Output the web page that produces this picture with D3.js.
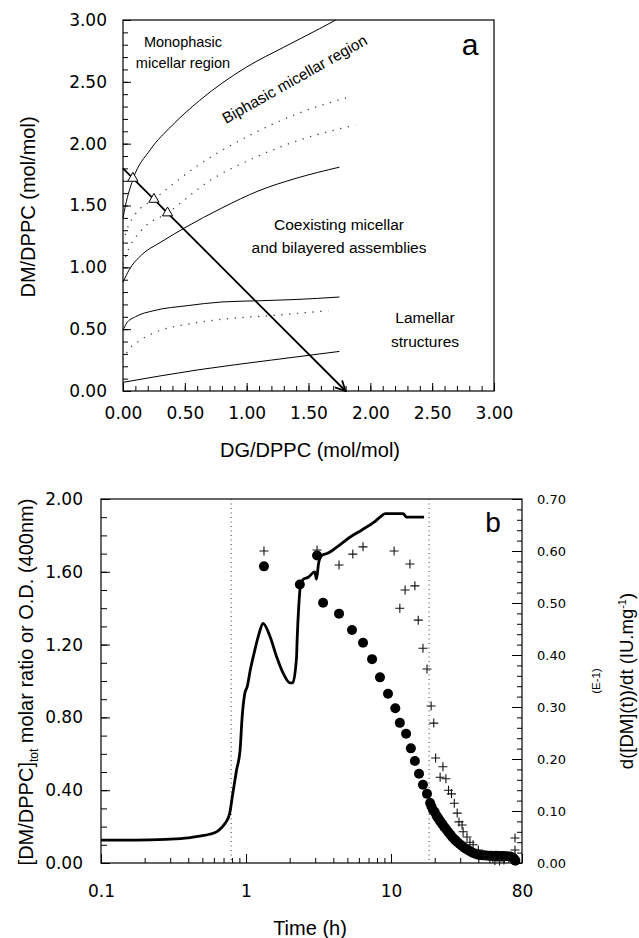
<!DOCTYPE html>
<html>
<head>
<meta charset="utf-8">
<script src="https://cdn.jsdelivr.net/npm/d3@7"></script>
<style>
body { margin: 0; background: #fff; }
svg { display: block; font-family: "Liberation Sans", Arial, sans-serif; }
</style>
</head>
<body>
<svg id="fig" width="639" height="938"></svg>
<script>
// ---------- panel a : phase diagram (DG/DPPC, DM/DPPC) ----------
var solidTop  = [[0,1.40],[0.02,1.50],[0.08,1.71],[0.22,1.95],[0.40,2.15],[0.62,2.35],[1.00,2.62],[1.30,2.78],[1.59,2.93],[1.72,3.00]];
var dotUpper  = [[0,1.20],[0.03,1.30],[0.10,1.43],[0.25,1.55],[0.60,1.82],[1.05,2.08],[1.43,2.25],[1.84,2.38]];
var dotLower  = [[0,1.02],[0.03,1.11],[0.15,1.30],[0.36,1.44],[0.70,1.70],[1.05,1.88],[1.43,2.03],[1.88,2.15]];
var solidMid  = [[0,0.88],[0.05,0.98],[0.15,1.10],[0.30,1.20],[0.50,1.32],[0.80,1.48],[1.10,1.62],[1.40,1.72],[1.75,1.81]];
var solidLow  = [[0,0.49],[0.03,0.55],[0.10,0.60],[0.25,0.65],[0.52,0.69],[0.80,0.72],[1.11,0.73],[1.40,0.74],[1.75,0.76]];
var dotLowest = [[0,0.25],[0.03,0.31],[0.14,0.41],[0.30,0.49],[0.52,0.54],[0.80,0.58],[1.20,0.61],[1.66,0.65]];
var solidBase = [[0,0.07],[0.60,0.17],[1.20,0.25],[1.75,0.32]];
var arrowPath = [[0,1.80],[1.80,0]];
var triangles = [[0.08,1.72],[0.25,1.55],[0.36,1.44]];
var aTicks = [0,0.5,1,1.5,2,2.5,3];

// ---------- panel b : kinetics vs time ----------
// thick curve, [DM/DPPC]tot (left axis)
var ratioCurve = [[0.10,0.126],[0.17,0.126],[0.28,0.130],[0.40,0.138],[0.48,0.148],[0.56,0.158],[0.63,0.172],[0.68,0.195],[0.72,0.22],[0.77,0.27],
  [0.81,0.38],[0.86,0.51],[0.91,0.62],[0.94,0.80],[0.98,0.93],[1.02,0.97],[1.07,1.06],[1.15,1.17],[1.23,1.26],[1.31,1.317],
  [1.47,1.24],[1.63,1.13],[1.81,1.04],[2.01,0.99],[2.10,0.99],[2.23,1.13],[2.25,1.22],[2.31,1.41],[2.37,1.52],[2.49,1.56],
  [2.69,1.57],[2.98,1.60],[3.06,1.56],[3.17,1.65],[3.34,1.69],[3.62,1.70],[4.3,1.74],[5.2,1.79],[6.3,1.83],[7.55,1.87],
  [8.4,1.90],[9.1,1.92],[10.5,1.92],[12.1,1.92],[12.8,1.90],[14.5,1.90],[16.9,1.90]];
// filled circles (left axis)
var circlePts = [[1.33,1.63],[2.35,1.53],[3.09,1.69],[3.40,1.43],[4.38,1.37],[5.38,1.28],[6.41,1.21],[7.40,1.12],[8.39,1.02],
  [9.53,0.93],[10.7,0.85],[11.5,0.77],[12.7,0.71],[13.7,0.63],[14.6,0.56],[15.6,0.49],[16.6,0.43],[17.7,0.38],
  [18.6,0.33],[19.0,0.31],[19.5,0.29],[20.0,0.28],[20.6,0.26],[21.2,0.245],[21.8,0.23],[22.5,0.215],[23.2,0.20],[24.0,0.185],
  [24.8,0.17],[25.7,0.155],[26.6,0.14],[27.6,0.127],[28.6,0.115],[29.7,0.104],[30.9,0.093],[32.1,0.083],[33.4,0.074],[34.8,0.066],
  [36.2,0.058],[37.7,0.052],[39.3,0.047],[41.0,0.044],[43,0.042],[45,0.041],[47,0.040],[49,0.040],[51,0.039],[53,0.040],
  [55,0.038],[57,0.039],[60,0.038],[63,0.037],[66,0.036],[69,0.030],[71,0.020],[72,0.012]];
// crosses, d([DM](t))/dt (right axis)
var plusPts = [[1.33,0.600],[3.09,0.602],[4.38,0.573],[5.45,0.594],[6.41,0.608],[10.5,0.600],[11.5,0.490],[12.5,0.525],
  [13.5,0.575],[14.6,0.533],[15.4,0.467],[16.6,0.413],[17.7,0.373],[18.9,0.302],[19.7,0.269],[20.3,0.202],[21.8,0.165],
  [22.8,0.185],[23.9,0.162],[24.9,0.140],[26.1,0.133],[27.3,0.115],[28.6,0.096],[29.4,0.079],[30.9,0.073],[31.4,0.060],
  [33.4,0.050],[35.0,0.040],[36.8,0.035],[40,0.025],[44,0.015],[48,0.008],[52,0.005],[56,0.004],[60,0.006],[65,0.010],
  [71.6,0.048],[71.6,0.025]];
var phaseLines = [0.79, 18.3];
var bLeftTicks = [0,0.4,0.8,1.2,1.6,2.0];
var bRightTicks = [0,0.1,0.2,0.3,0.4,0.5,0.6,0.7];
var bTimeTicks = [0.1,1,10,80];

var svg = d3.select("#fig");
var f2 = d3.format(".2f");

function styleAxis(g, size) {
    g.select(".domain").remove();
    g.selectAll("line").attr("stroke", "#000");
    g.selectAll("text").attr("font-family", "DejaVu Sans, sans-serif").attr("font-size", size).attr("fill", "#000");
}

// ================= panel a =================
var ax = d3.scaleLinear().domain([0, 3]).range([123, 494]);
var ay = d3.scaleLinear().domain([0, 3]).range([391, 20]);
var minorA = d3.range(0, 31).map(function(d) { return d / 10; });

var pa = svg.append("g").attr("class", "panel-a");

pa.append("g").attr("transform", "translate(123,0)")
    .call(d3.axisLeft(ay).tickValues(minorA).tickSize(-5).tickFormat(""))
    .call(styleAxis, 17);
pa.append("g").attr("transform", "translate(123,0)")
    .call(d3.axisLeft(ay).tickValues(aTicks).tickSize(-8).tickPadding(16).tickFormat(f2))
    .call(styleAxis, 17);
pa.append("g").attr("transform", "translate(0,391)")
    .call(d3.axisBottom(ax).tickValues(minorA).tickSize(-5).tickFormat(""))
    .call(styleAxis, 17);
pa.append("g").attr("transform", "translate(0,391)")
    .call(d3.axisBottom(ax).tickValues(aTicks).tickSize(-8).tickPadding(16).tickFormat(f2))
    .call(styleAxis, 17);

pa.append("rect")
    .attr("x", ax(0)).attr("y", ay(3))
    .attr("width", ax(3) - ax(0)).attr("height", ay(0) - ay(3))
    .attr("fill", "none").attr("stroke", "#000").attr("stroke-width", 1.2);

var lineA = d3.line().x(function(d) { return ax(d[0]); }).y(function(d) { return ay(d[1]); }).curve(d3.curveMonotoneX);

[solidTop, solidMid, solidLow, solidBase].forEach(function(s) {
    pa.append("path").datum(s).attr("d", lineA)
        .attr("fill", "none").attr("stroke", "#000").attr("stroke-width", 1);
});
[dotUpper, dotLower, dotLowest].forEach(function(s) {
    pa.append("path").datum(s).attr("d", lineA)
        .attr("fill", "none").attr("stroke", "#444").attr("stroke-width", 1.3)
        .attr("stroke-dasharray", "1.3,6.5");
});

svg.append("defs").append("marker")
    .attr("id", "arrow").attr("viewBox", "0 0 12 12")
    .attr("refX", 11).attr("refY", 6)
    .attr("markerWidth", 12).attr("markerHeight", 12)
    .attr("markerUnits", "userSpaceOnUse").attr("orient", "auto")
    .append("path").attr("d", "M1,1 L11,6 L1,11")
    .attr("fill", "none").attr("stroke", "#000").attr("stroke-width", 1.8);

pa.append("path").datum(arrowPath)
    .attr("d", d3.line().x(function(d) { return ax(d[0]); }).y(function(d) { return ay(d[1]); }))
    .attr("fill", "none").attr("stroke", "#000").attr("stroke-width", 1.8)
    .attr("marker-end", "url(#arrow)");

pa.selectAll(".tri").data(triangles).enter().append("path")
    .attr("class", "tri")
    .attr("transform", function(d) { return "translate(" + ax(d[0]) + "," + ay(d[1]) + ")"; })
    .attr("d", d3.symbol(d3.symbolTriangle).size(45))
    .attr("fill", "#fff").attr("stroke", "#000").attr("stroke-width", 1);

// region labels
var regionText = [
    {t: "Monophasic", x: 183, y: 47, s: 14.5},
    {t: "micellar region", x: 183, y: 68, s: 14.5},
    {t: "Coexisting micellar", x: 339, y: 230, s: 15.5},
    {t: "and bilayered assemblies", x: 339, y: 253, s: 15.5},
    {t: "Lamellar", x: 425, y: 323, s: 15.5},
    {t: "structures", x: 425, y: 347, s: 15.5}
];
pa.selectAll(".region").data(regionText).enter().append("text")
    .attr("x", function(d) { return d.x; }).attr("y", function(d) { return d.y; })
    .attr("text-anchor", "middle").attr("font-size", function(d) { return d.s; })
    .text(function(d) { return d.t; });

pa.append("text")
    .attr("transform", "translate(226,124) rotate(-29.5)")
    .attr("font-size", 15.5)
    .text("Biphasic micellar region");

pa.append("text").attr("x", 470).attr("y", 55).attr("text-anchor", "middle")
    .attr("font-size", 30).text("a");

pa.append("text").attr("x", 310).attr("y", 457).attr("text-anchor", "middle")
    .attr("font-size", 20).text("DG/DPPC (mol/mol)");
pa.append("text").attr("transform", "translate(35,207) rotate(-90)")
    .attr("text-anchor", "middle").attr("font-size", 20).text("DM/DPPC (mol/mol)");

// ================= panel b =================
var bx = d3.scaleLog().domain([0.1, 80]).range([101, 522]);
var by = d3.scaleLinear().domain([0, 2]).range([863, 499]);
var byR = d3.scaleLinear().domain([0, 0.7]).range([863, 499]);

var pb = svg.append("g").attr("class", "panel-b");

var minorB = d3.range(0, 21).map(function(d) { return d / 10; });
var minorR = d3.range(0, 36).map(function(d) { return d / 50; });
var minorT = [];
[0.1, 1, 10].forEach(function(dec) {
    for (var k = 2; k <= 9; k++) { if (k * dec <= 80) minorT.push(k * dec); }
});

pb.append("g").attr("transform", "translate(101,0)")
    .call(d3.axisLeft(by).tickValues(minorB).tickSize(-6).tickFormat(""))
    .call(styleAxis, 17);
pb.append("g").attr("transform", "translate(101,0)")
    .call(d3.axisLeft(by).tickValues(bLeftTicks).tickSize(-9).tickPadding(18).tickFormat(f2))
    .call(styleAxis, 17);
pb.append("g").attr("transform", "translate(522,0)")
    .call(d3.axisRight(byR).tickValues(minorR).tickSize(-5).tickFormat(""))
    .call(styleAxis, 13);
pb.append("g").attr("transform", "translate(522,0)")
    .call(d3.axisRight(byR).tickValues(bRightTicks).tickSize(-10).tickPadding(15).tickFormat(f2))
    .call(styleAxis, 13);
pb.append("g").attr("transform", "translate(0,863)")
    .call(d3.axisBottom(bx).tickValues(minorT).tickSize(-5).tickFormat(""))
    .call(styleAxis, 17);
pb.append("g").attr("transform", "translate(0,863)")
    .call(d3.axisBottom(bx).tickValues(bTimeTicks).tickSize(-9).tickPadding(22).tickFormat(d3.format("")))
    .call(styleAxis, 17);

pb.append("rect")
    .attr("x", bx(0.1)).attr("y", by(2))
    .attr("width", bx(80) - bx(0.1)).attr("height", by(0) - by(2))
    .attr("fill", "none").attr("stroke", "#000").attr("stroke-width", 1.2);

pb.selectAll(".phase").data(phaseLines).enter().append("line")
    .attr("x1", function(d) { return bx(d); }).attr("x2", function(d) { return bx(d); })
    .attr("y1", by(2)).attr("y2", by(0))
    .attr("stroke", "#333").attr("stroke-width", 1).attr("stroke-dasharray", "1,3.5");

pb.append("path").datum(ratioCurve)
    .attr("d", d3.line().x(function(d) { return bx(d[0]); }).y(function(d) { return by(d[1]); }).curve(d3.curveMonotoneX))
    .attr("fill", "none").attr("stroke", "#000").attr("stroke-width", 2.8)
    .attr("stroke-linejoin", "round");

pb.selectAll(".dot").data(circlePts).enter().append("circle")
    .attr("class", "dot")
    .attr("cx", function(d) { return bx(d[0]); }).attr("cy", function(d) { return by(d[1]); })
    .attr("r", 5).attr("fill", "#000");

pb.selectAll(".plus").data(plusPts).enter().append("path")
    .attr("class", "plus")
    .attr("transform", function(d) { return "translate(" + bx(d[0]) + "," + byR(d[1]) + ")"; })
    .attr("d", "M-4.5,0H4.5M0,-4.5V4.5")
    .attr("stroke", "#111").attr("stroke-width", 1.1).attr("fill", "none");

pb.append("text").attr("x", 493).attr("y", 532).attr("text-anchor", "middle")
    .attr("font-size", 28).text("b");

pb.append("text").attr("x", 310).attr("y", 935).attr("text-anchor", "middle")
    .attr("font-size", 20).text("Time (h)");

var leftTitle = pb.append("text").attr("transform", "translate(33,682) rotate(-90)")
    .attr("text-anchor", "middle").attr("font-size", 20);
leftTitle.append("tspan").text("[DM/DPPC]");
leftTitle.append("tspan").attr("font-size", 12).attr("dy", 5).text("tot");
leftTitle.append("tspan").attr("dy", -5).text(" molar ratio or O.D. (400nm)");

var rightTitle = pb.append("text").attr("transform", "translate(633,681) rotate(-90)")
    .attr("text-anchor", "middle").attr("font-size", 18.5);
rightTitle.append("tspan").text("d([DM](t))/dt (IU.mg");
rightTitle.append("tspan").attr("font-size", 11).attr("dy", -7).text("-1");
rightTitle.append("tspan").attr("dy", 7).text(")");

pb.append("text").attr("transform", "translate(600,681) rotate(-90)")
    .attr("text-anchor", "middle").attr("font-size", 11.5).text("(E-1)");
</script>
</body>
</html>
